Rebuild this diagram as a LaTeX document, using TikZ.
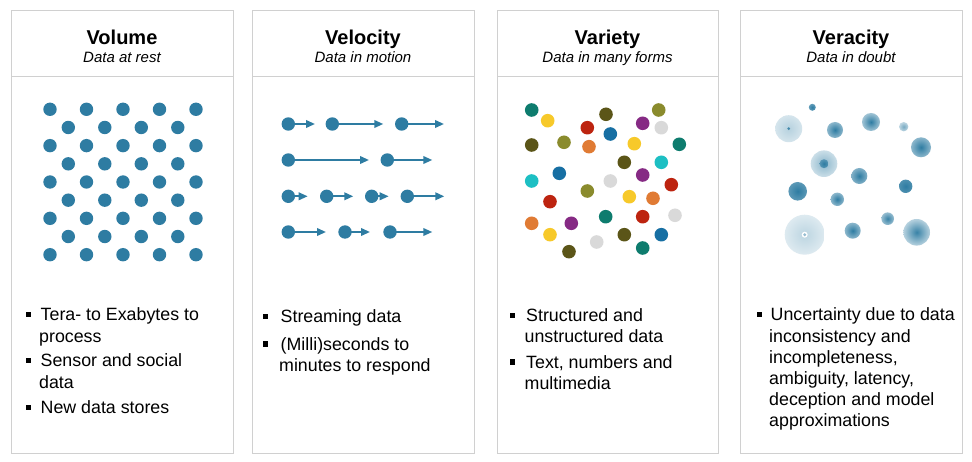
\documentclass[tikz,border=0pt]{standalone}
\usepackage{fontspec}
\setmainfont{Liberation Sans}
\usetikzlibrary{arrows.meta}
\definecolor{vblue}{RGB}{46,124,162}
\definecolor{boxgray}{RGB}{208,208,208}
\definecolor{cteal}{RGB}{14,124,110}
\definecolor{cyellow}{RGB}{247,201,42}
\definecolor{colive}{RGB}{91,85,24}
\definecolor{cgreen}{RGB}{138,139,45}
\definecolor{cred}{RGB}{189,36,16}
\definecolor{cpurple}{RGB}{134,42,132}
\definecolor{cgray}{RGB}{217,217,217}
\definecolor{cblue}{RGB}{23,111,163}
\definecolor{corange}{RGB}{224,123,52}
\definecolor{ccyan}{RGB}{29,191,195}
\tikzset{
  panel/.style={draw=boxgray, line width=1pt},
  title/.style={anchor=base, inner sep=0pt, font=\fontsize{20}{24}\selectfont\bfseries},
  subtitle/.style={anchor=base, inner sep=0pt, font=\fontsize{15}{18}\selectfont\itshape},
  btext/.style={anchor=north west, inner sep=0pt, align=left, font=\fontsize{17.8}{21.2}\selectfont},
  marker/.style={fill=black},
  vel/.style={draw=vblue, line width=2pt, -{Triangle[length=9pt,width=7.5pt]}},
}
\newcommand{\bmark}[2]{\fill[marker] ({#1-2.6},{#2-8.6}) rectangle ({#1+2.6},{#2-3.4});}
\begin{document}
\begin{tikzpicture}[x=1pt,y=-1pt]
\useasboundingbox[fill=white] (0,0) rectangle (972,462);
% panels
\foreach \l/\r in {11/233, 252/474, 497/718, 740/962}{
  \draw[panel] (\l,11) rectangle (\r,453);
  \draw[panel] (\l,77) -- (\r,77);
}
% titles
\node[title] (t1) at (122,45) {Volume};
\node[subtitle] (s1) at (122,63) {Data at rest};
\node[title] (t2) at (363,45) {Velocity};
\node[subtitle] (s2) at (363,63) {Data in motion};
\node[title] (t3) at (607.5,45) {Variety};
\node[subtitle] (s3) at (607.5,63) {Data in many forms};
\node[title] (t4) at (851,45) {Veracity};
\node[subtitle] (s4) at (851,63) {Data in doubt};
% volume dots
\foreach \r in {0,2,4,6,8}
  \foreach \c in {0,...,4}
    \fill[vblue] ({50+36.5*\c},{109.3+18.175*\r}) circle (6.7pt);
\foreach \r in {1,3,5,7}
  \foreach \c in {0,...,3}
    \fill[vblue] ({68.3+36.5*\c},{109.3+18.175*\r}) circle (6.7pt);
% velocity arrows
\foreach \x/\y/\t in {288.3/124/315, 332.3/124/383.3, 401.7/124/444,
                      288.3/160/369, 387.3/160/432.3,
                      288.3/196.3/307.7, 326.7/196.3/353.3, 371.7/196.3/388.7, 407.3/196.3/444.3,
                      288.3/232/326, 345/232/370, 390/232/432.3}{
  \draw[vel] (\x,\y) -- (\t,\y);
  \fill[vblue] (\x,\y) circle (6.7pt);
}
% variety dots
\foreach \x/\y/\c in {531.7/110/cteal, 547.7/120.7/cyellow, 606/114.3/colive, 658.7/110/cgreen,
  587.3/127.7/cred, 642.7/123.3/cpurple, 661.3/127.7/cgray, 610.3/134/cblue,
  531.7/145/colive, 564/142.3/cgreen, 589/146.7/corange, 634.3/143.7/cyellow, 679.3/144.3/cteal,
  624.3/162.3/colive, 661.3/162.3/ccyan, 559.3/173.3/cblue, 642.7/175/cpurple,
  531.7/181/ccyan, 610.3/181/cgray, 671.3/184.7/cred, 587.3/191/cgreen,
  629.3/196.7/cyellow, 653/198.3/corange, 550/201.7/cred, 605.7/216.7/cteal,
  642.7/216.7/cred, 675/215.3/cgray, 531.7/223.3/corange, 571.3/223.3/cpurple,
  550/234.7/cyellow, 624.3/234.7/colive, 661.3/234.7/cblue, 596.7/242/cgray,
  569/251.7/colive, 642.7/248/cteal}{
  \fill[\c] (\x,\y) circle (6.8pt);
}
% veracity circles
\foreach \x/\y/\r/\i/\o in {812.3/107.3/3.5/100/75, 788.7/128.7/13.5/35/20, 835/130/8/100/55,
  871/122/9/100/45, 903.7/126.7/4.7/65/30, 921/147.3/10/100/55, 824/163.7/13.3/55/25,
  859.3/176/8/100/60, 797.7/191.3/9.3/100/78, 905.7/186.3/6.7/100/85, 837.3/199.3/6.7/100/55,
  887.7/218.7/6.3/95/50, 804.7/234.7/20/32/16, 852.7/230.7/8/100/55, 916.7/232.3/13.3/95/35}{
  \shade[inner color=vblue!\i, outer color=vblue!\o] (\x,\y) circle (\r pt);
}
\shade[inner color=vblue, outer color=vblue!80] (824,163.7) circle (4.5pt);
\fill[vblue!90] (788.7,128.7) circle (1.5pt);
\fill[white] (804.7,234.7) circle (3pt);
\fill[vblue!50] (804.7,234.7) circle (1.6pt);
% bullets panel 1
\bmark{28.5}{320.7}
\node[btext] (b11) at (39,{320.7-14.84}) {\strut\hspace{1.5pt}Tera- to Exabytes to\\\strut process};
\bmark{28.5}{366.7}
\node[btext] (b12) at (39,{366.7-14.84}) {\strut\hspace{1.5pt}Sensor and social\\\strut data};
\bmark{28.5}{413.3}
\node[btext] (b13) at (39,{413.3-14.84}) {\strut\hspace{1.5pt}New data stores};
% bullets panel 2
\bmark{265.8}{322.7}
\node[btext] (b21) at (279,{322.7-14.84}) {\strut\hspace{1.5pt}Streaming data};
\bmark{265.8}{350}
\node[btext] (b22) at (279,{350-14.84}) {\strut\hspace{1.5pt}(Milli)seconds to\\\strut minutes to respond};
% bullets panel 3
\bmark{512.5}{321.5}
\node[btext] (b31) at (524.5,{321.5-14.84}) {\strut\hspace{1.5pt}Structured and\\\strut unstructured data};
\bmark{512.5}{368}
\node[btext] (b32) at (524.5,{368-14.84}) {\strut\hspace{1.5pt}Text, numbers and\\\strut multimedia};
% bullets panel 4
\bmark{759.2}{320.7}
\node[btext] (b41) at (769,{320.7-14.84}) {\strut\hspace{1.5pt}Uncertainty due to data\\\strut inconsistency and\\\strut incompleteness,\\\strut ambiguity, latency,\\\strut deception and model\\\strut approximations};
\end{tikzpicture}
\end{document}
